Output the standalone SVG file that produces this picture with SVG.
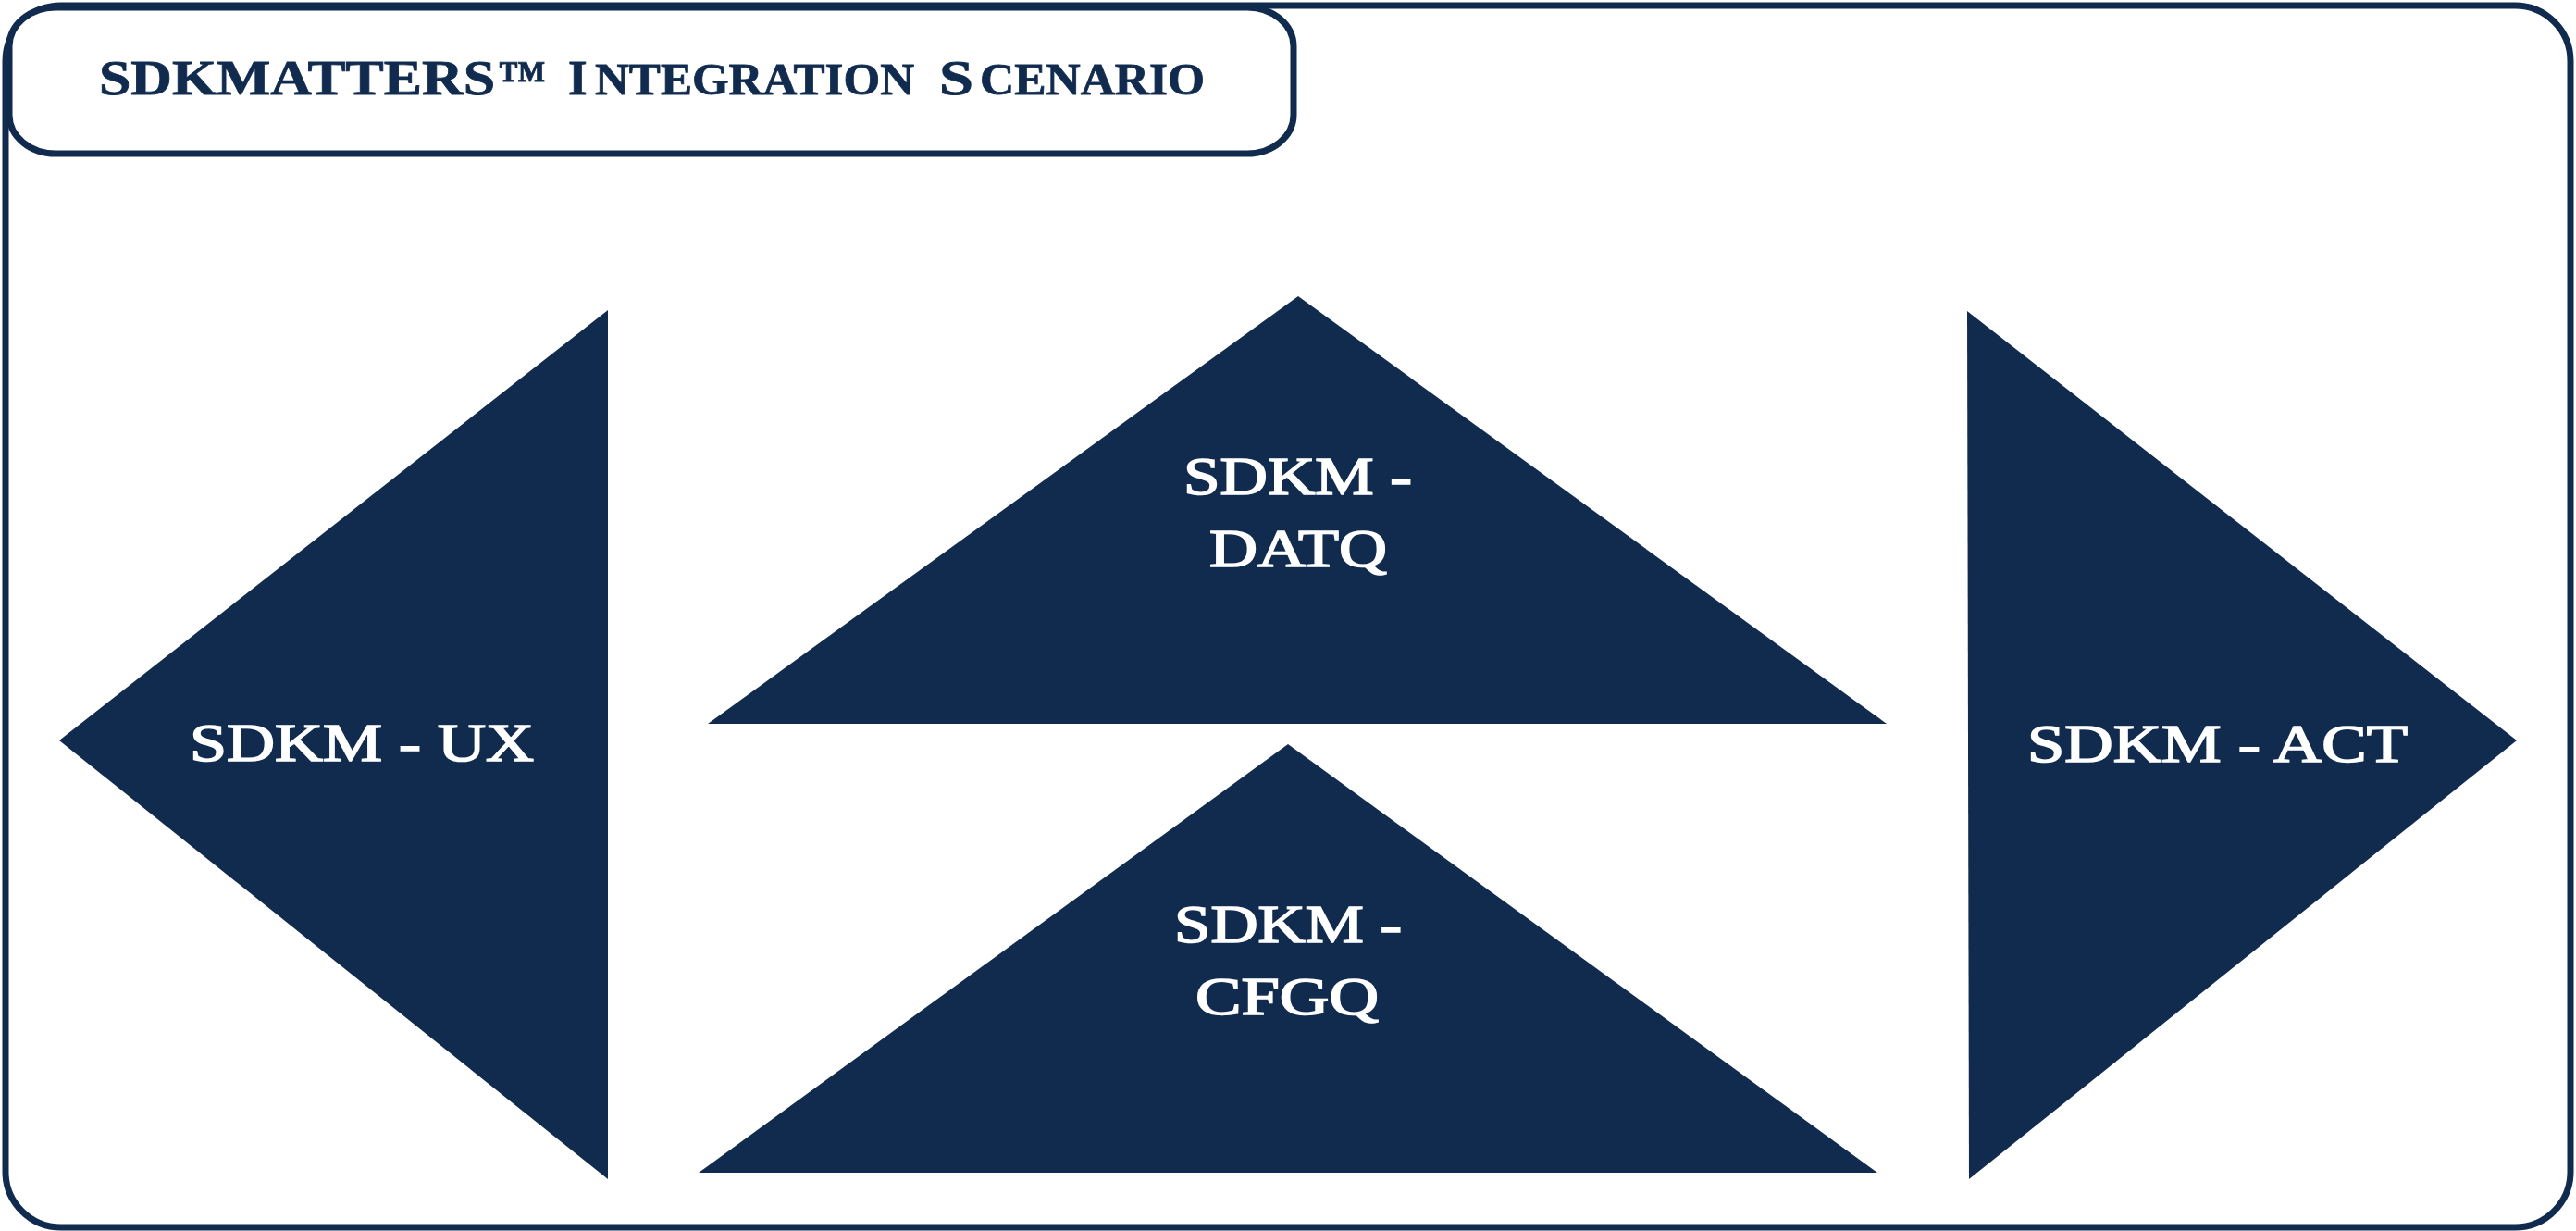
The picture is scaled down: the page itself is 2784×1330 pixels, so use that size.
<svg xmlns="http://www.w3.org/2000/svg" width="2784" height="1330" viewBox="0 0 2784 1330">
  <style>
    .frame { fill: #ffffff; stroke: #112B4F; stroke-width: 7; }
    .tri { fill: #112B4F; stroke: none; }
    .title { font-family: "Liberation Serif", "DejaVu Serif", serif; font-weight: bold; fill: #112B4F; stroke: #112B4F; stroke-width: 0.8; }
    .lbl { font-family: "Liberation Serif", "DejaVu Serif", serif; font-size: 56px; fill: #ffffff; stroke: #ffffff; stroke-width: 1.6; }
  </style>
  <rect width="2784" height="1330" fill="#ffffff"/>
  <g id="frame">
    <rect class="frame" x="6" y="6" width="2772" height="1320" rx="60" ry="60"/>
  </g>
  <g id="title-box">
    <rect class="frame" x="10" y="8" width="1388" height="158" rx="50" ry="42"/>
    <text class="title" y="102">
      <tspan x="107" font-size="53" textLength="428" lengthAdjust="spacingAndGlyphs">SDKMATTERS</tspan><tspan x="538" font-size="53" textLength="52" lengthAdjust="spacingAndGlyphs">™</tspan><tspan x="614" font-size="53">I</tspan><tspan x="643" font-size="48" textLength="345" lengthAdjust="spacingAndGlyphs">NTEGRATION</tspan><tspan x="1015" font-size="53" textLength="37" lengthAdjust="spacingAndGlyphs">S</tspan><tspan x="1059" font-size="48" textLength="243" lengthAdjust="spacingAndGlyphs">CENARIO</tspan>
    </text>
  </g>
  <g id="connectors"></g>
  <g id="node-ux">
    <polygon class="tri" points="657,335 657,1274 64,800"/>
    <text class="lbl" x="205" y="822" textLength="372" lengthAdjust="spacingAndGlyphs">SDKM - UX</text>
  </g>
  <g id="node-datq">
    <polygon class="tri" points="1403,320 2039,782 765,782"/>
    <text class="lbl" x="1279" y="534" textLength="247" lengthAdjust="spacingAndGlyphs">SDKM -</text>
    <text class="lbl" x="1307" y="612" textLength="192" lengthAdjust="spacingAndGlyphs">DATQ</text>
  </g>
  <g id="node-cfgq">
    <polygon class="tri" points="1392,804 2029,1267 755,1267"/>
    <text class="lbl" x="1269" y="1018" textLength="246" lengthAdjust="spacingAndGlyphs">SDKM -</text>
    <text class="lbl" x="1292" y="1096" textLength="198" lengthAdjust="spacingAndGlyphs">CFGQ</text>
  </g>
  <g id="node-act">
    <polygon class="tri" points="2126,336 2720,800 2128,1274"/>
    <text class="lbl" x="2191" y="823" textLength="411" lengthAdjust="spacingAndGlyphs">SDKM - ACT</text>
  </g>
</svg>
